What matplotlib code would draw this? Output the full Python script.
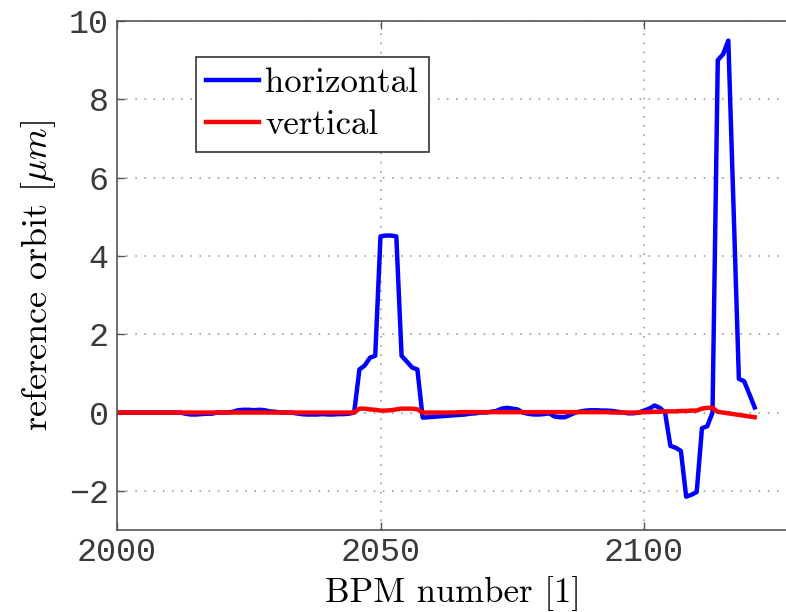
import numpy as np
import matplotlib
matplotlib.use("Agg")
import matplotlib.pyplot as plt

# BPM index and orbit readings [um]
bpm = np.arange(2000, 2122)

horizontal = [
    0.0, 0.0, 0.0, 0.0, 0.0, 0.0, 0.0, 0.0, 0.0, 0.0,
    0.0, 0.0, 0.0, -0.03, -0.05, -0.05, -0.04, -0.03, -0.03, 0.0,
    0.0, 0.0, 0.02, 0.06, 0.07, 0.07, 0.06, 0.07, 0.06, 0.03,
    0.02, 0.0, 0.0, 0.0, -0.02, -0.04, -0.05, -0.05, -0.05, -0.04,
    -0.05, -0.05, -0.04, -0.04, -0.03, 0.0, 1.1, 1.2, 1.4, 1.45,
    4.5, 4.52, 4.52, 4.5, 1.45, 1.3, 1.15, 1.1, -0.13, -0.12,
    -0.11, -0.1, -0.09, -0.08, -0.07, -0.06, -0.05, -0.03, -0.02, 0.0,
    0.0, 0.02, 0.04, 0.1, 0.12, 0.1, 0.08, 0.0, -0.03, -0.05,
    -0.05, -0.04, -0.02, -0.1, -0.12, -0.12, -0.06, 0.0, 0.03, 0.05,
    0.06, 0.06, 0.05, 0.05, 0.04, 0.02, 0.0, -0.02, -0.02, 0.0,
    0.05, 0.1, 0.18, 0.12, 0.0, -0.85, -0.9, -0.98, -2.15, -2.1,
    -2.03, -0.4, -0.35, 0.0, 9.0, 9.15, 9.5, 5.2, 0.86, 0.8,
    0.47, 0.13,
]

vertical = [
    0.0, 0.0, 0.0, 0.0, 0.0, 0.0, 0.0, 0.0, 0.0, 0.0,
    0.0, 0.0, 0.0, 0.0, 0.0, 0.0, 0.0, 0.0, 0.0, 0.0,
    0.0, 0.0, 0.0, 0.0, 0.0, 0.0, 0.0, 0.0, 0.0, 0.0,
    0.0, 0.0, 0.0, 0.0, 0.0, 0.0, 0.0, 0.0, 0.0, 0.0,
    0.0, 0.0, 0.0, 0.0, 0.0, 0.0, 0.1, 0.1, 0.08, 0.07,
    0.05, 0.05, 0.06, 0.08, 0.1, 0.1, 0.1, 0.08, 0.0, 0.0,
    0.0, 0.0, 0.0, 0.0, 0.0, 0.01, 0.01, 0.01, 0.01, 0.01,
    0.01, 0.01, 0.01, 0.01, 0.01, 0.01, 0.01, 0.01, 0.01, 0.01,
    0.01, 0.01, 0.01, 0.01, 0.01, 0.01, 0.01, 0.01, 0.01, 0.01,
    0.01, 0.01, 0.01, 0.01, 0.0, 0.0, 0.0, 0.0, 0.0, 0.0,
    0.01, 0.01, 0.02, 0.02, 0.03, 0.03, 0.03, 0.04, 0.04, 0.05,
    0.05, 0.1, 0.12, 0.12, 0.02, 0.0, -0.02, -0.04, -0.06, -0.08,
    -0.1, -0.12,
]

plt.rcParams['mathtext.fontset'] = 'cm'
plt.rcParams['axes.unicode_minus'] = True

W, H = 786, 612
fig = plt.figure(figsize=(W / 100, H / 100), dpi=100)
# axes run past the right edge, like the cropped original
left, top, bottom = 117, 21, 530
xmin, xmax = 2000, 2150
pxu = 5.27
ax = fig.add_axes([left / W, 1 - bottom / H, (xmax - xmin) * pxu / W, (bottom - top) / H])

ax.plot(bpm, horizontal, color='#0000ff', lw=3.2, label='horizontal')
ax.plot(bpm, vertical, color='#ff0000', lw=3.2, label='vertical')

ax.set_xlim(xmin, xmax)
ax.set_ylim(-3, 10)
ax.set_xticks([2000, 2050, 2100, 2150])
ax.set_xticklabels(['2000', '2050', '2100', ''])
ax.set_yticks([-2, 0, 2, 4, 6, 8, 10])
ax.grid(True, color='#8c8c8c', linestyle=(0, (1, 5)), linewidth=1.1)

for s in ax.spines.values():
    s.set_color('#555555')
    s.set_linewidth(1.2)
ax.tick_params(direction='in', top=True, right=True, length=6, width=1,
               color='#555555', labelcolor='#3a3a3a')
ax.tick_params(axis='x', pad=5)
ax.tick_params(axis='y', pad=6)
for lab in ax.get_xticklabels() + ax.get_yticklabels():
    lab.set_fontfamily('Liberation Mono')
    lab.set_fontsize(24)

ax.set_xlabel('BPM number [1]', fontfamily='cmr10', fontsize=25)
ax.xaxis.set_label_coords((453 - left) / ((xmax - xmin) * pxu), -0.09)
ax.set_ylabel(r'reference orbit [$\mu m$]', fontfamily='cmr10', fontsize=26, labelpad=8)

ax.legend(loc='upper left', bbox_to_anchor=(79 / (150 * pxu), (bottom - 57) / (bottom - top)),
          borderaxespad=0, fancybox=False, framealpha=1, edgecolor='#333333',
          prop={'family': 'cmr10', 'size': 25}, handlelength=1.5, handletextpad=0.2,
          borderpad=0.3, labelspacing=0.3)
ax.get_legend().get_frame().set_linewidth(1.2)

fig.savefig('out.png', dpi=100)
